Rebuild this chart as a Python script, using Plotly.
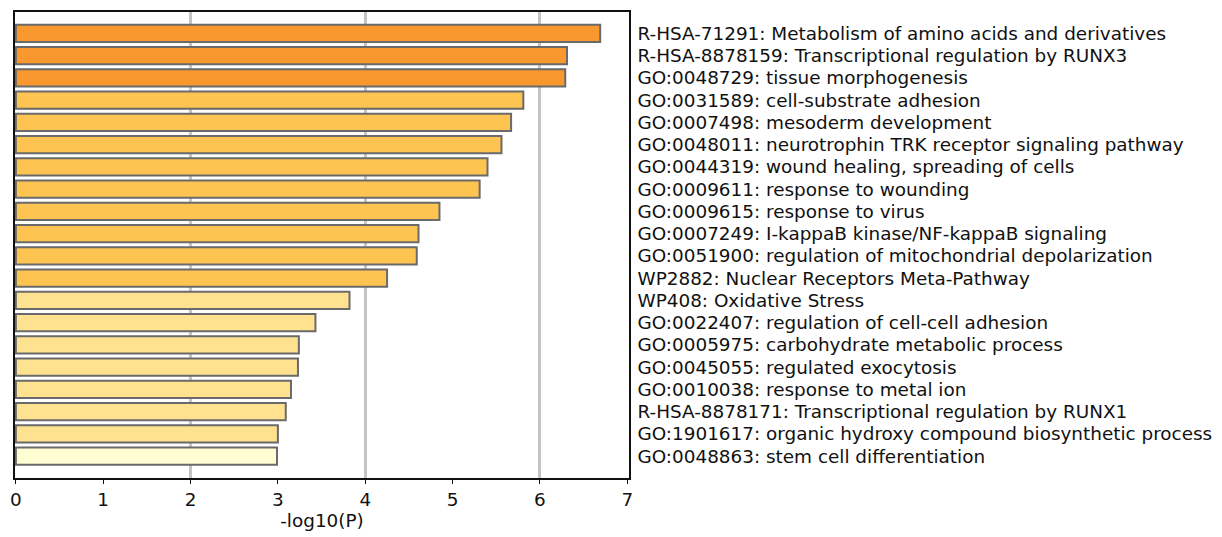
import plotly.graph_objects as go

# Enriched terms, top to bottom
terms = [
    "R-HSA-71291: Metabolism of amino acids and derivatives",
    "R-HSA-8878159: Transcriptional regulation by RUNX3",
    "GO:0048729: tissue morphogenesis",
    "GO:0031589: cell-substrate adhesion",
    "GO:0007498: mesoderm development",
    "GO:0048011: neurotrophin TRK receptor signaling pathway",
    "GO:0044319: wound healing, spreading of cells",
    "GO:0009611: response to wounding",
    "GO:0009615: response to virus",
    "GO:0007249: I-kappaB kinase/NF-kappaB signaling",
    "GO:0051900: regulation of mitochondrial depolarization",
    "WP2882: Nuclear Receptors Meta-Pathway",
    "WP408: Oxidative Stress",
    "GO:0022407: regulation of cell-cell adhesion",
    "GO:0005975: carbohydrate metabolic process",
    "GO:0045055: regulated exocytosis",
    "GO:0010038: response to metal ion",
    "R-HSA-8878171: Transcriptional regulation by RUNX1",
    "GO:1901617: organic hydroxy compound biosynthetic process",
    "GO:0048863: stem cell differentiation",
]

neg_log10_p = [6.69, 6.31, 6.29, 5.81, 5.67, 5.56, 5.40, 5.31, 4.85, 4.61,
               4.59, 4.25, 3.82, 3.43, 3.24, 3.23, 3.15, 3.09, 3.00, 2.99]

x_ticks = [0, 1, 2, 3, 4, 5, 6, 7]

# Fill colours by significance bin
ORANGE = "#F9982E"
AMBER = "#FEC452"
LIGHT = "#FFE28F"
PALE = "#FFFDD2"


def bin_color(v):
    if v >= 6:
        return ORANGE
    if v >= 4:
        return AMBER
    if v >= 3:
        return LIGHT
    return PALE


colors = [bin_color(v) for v in neg_log10_p]
positions = list(range(len(terms)))

FONT = "DejaVu Sans"
FS = 18.4

fig = go.Figure()
fig.add_trace(go.Bar(
    x=neg_log10_p,
    y=positions,
    orientation="h",
    width=0.78,
    marker=dict(color=colors, line=dict(color="#6a6a6a", width=2)),
    xaxis="x",
    yaxis="y",
    showlegend=False,
    hoverinfo="x+text",
    hovertext=terms,
))
# empty trace to activate the labelled overlay axis
fig.add_trace(go.Scatter(x=[None], y=[None], xaxis="x2", yaxis="y",
                         showlegend=False, hoverinfo="skip"))

xr = [-0.01, 7.02]

fig.update_layout(
    width=1222,
    height=537,
    margin=dict(l=11, r=593, t=10, b=59),
    paper_bgcolor="white",
    plot_bgcolor="white",
    font=dict(family=FONT, size=FS, color="#111111"),
    xaxis=dict(
        range=xr,
        dtick=2,
        tick0=0,
        showgrid=True,
        gridcolor="#c4c4c4",
        gridwidth=2.6,
        showticklabels=False,
        ticks="",
        zeroline=False,
        showline=True,
        linecolor="#111111",
        linewidth=1.6,
        mirror=True,
    ),
    xaxis2=dict(
        range=xr,
        overlaying="x",
        side="bottom",
        tickvals=x_ticks,
        ticktext=[str(t) for t in x_ticks],
        showgrid=False,
        zeroline=False,
        ticks="outside",
        ticklen=5,
        tickwidth=1.3,
        tickcolor="#111111",
        ticklabelstandoff=0,
        tickfont=dict(family=FONT, size=FS, color="#111111"),
        title=dict(text="-log10(P)", font=dict(family=FONT, size=FS, color="#111111"), standoff=2),
        showline=False,
    ),
    yaxis=dict(
        range=[19.98, -0.96],
        tickvals=positions,
        ticktext=terms,
        side="right",
        ticks="",
        showgrid=False,
        zeroline=False,
        showline=True,
        linecolor="#111111",
        linewidth=1.6,
        mirror=True,
        ticklabelstandoff=3,
        tickfont=dict(family=FONT, size=FS, color="#111111"),
    ),
)

fig.write_html("out.html")
